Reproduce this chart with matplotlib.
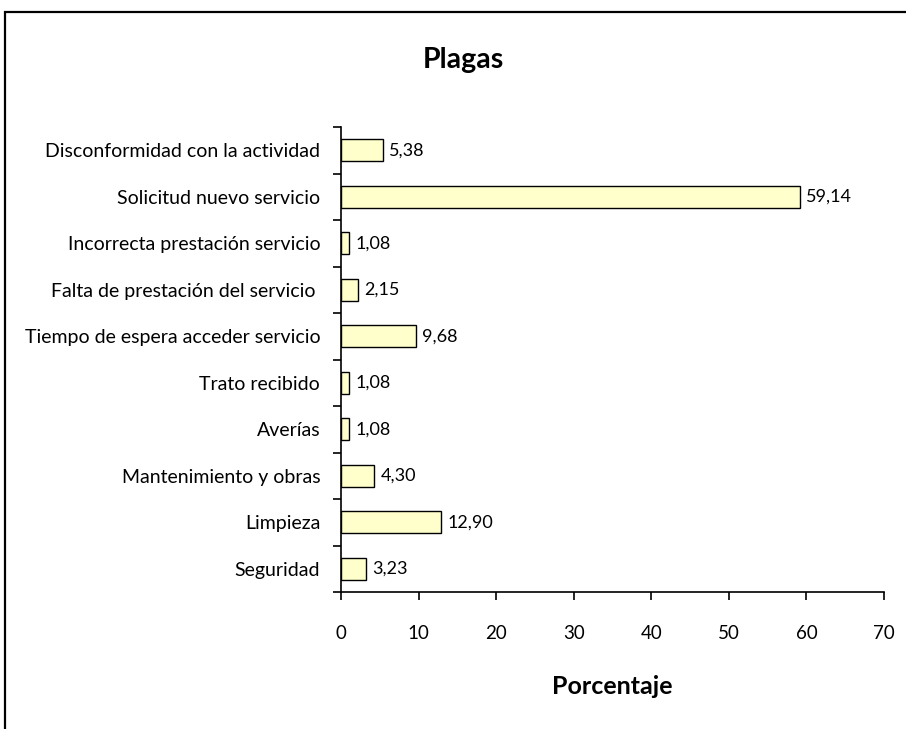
import matplotlib
matplotlib.use("Agg")
import matplotlib.pyplot as plt
from matplotlib.patches import Rectangle

categories = ["Disconformidad con la actividad", "Solicitud nuevo servicio",
              "Incorrecta prestación servicio", "Falta de prestación del servicio ",
              "Tiempo de espera acceder servicio", "Trato recibido", "Averías",
              "Mantenimiento y obras", "Limpieza", "Seguridad"]
values = [5.38, 59.14, 1.08, 2.15, 9.68, 1.08, 1.08, 4.30, 12.90, 3.23]
xticks = [0, 10, 20, 30, 40, 50, 60, 70]

plt.rcParams['font.family'] = ['Lato', 'DejaVu Sans']

fig = plt.figure(figsize=(9.06, 7.29), dpi=100)
fig.patches.append(Rectangle((5/906, -0.5), 2.0, 0.5 + 1 - 12/729, transform=fig.transFigure,
                             fill=False, edgecolor='black', linewidth=1.6))
ax = fig.add_axes([341/906, 1 - 592/729, (884 - 341)/906, (592 - 127)/729])

n = len(categories)
ypos = list(range(n))[::-1]
ax.barh(ypos, values, height=0.48, color='#FFFFCC', edgecolor='black', linewidth=1.0)
for y, v in zip(ypos, values):
    ax.text(v + 0.8, y, f"{v:.2f}".replace('.', ','), va='center', ha='left', fontsize=13)

ax.set_xlim(0, 70)
ax.set_ylim(-0.5, n - 0.5)
ax.set_xticks(xticks)
ax.set_xticklabels([str(t) for t in xticks], fontsize=13.5)
ax.set_yticks(ypos)
ax.set_yticklabels(categories, fontsize=14)
ax.set_yticks([i - 0.5 for i in range(n + 1)], minor=True)
ax.tick_params(axis='y', which='major', length=0, pad=15)
ax.tick_params(axis='y', which='minor', length=6, width=1.2, direction='out')
ax.tick_params(axis='x', which='major', length=6, width=1.2, direction='out', pad=18)
for s in ['top', 'right']:
    ax.spines[s].set_visible(False)
for s in ['left', 'bottom']:
    ax.spines[s].set_linewidth(1.2)
fig.text(612/906, 1 - 686/729, "Porcentaje", ha='center', va='center', fontsize=18, fontweight='bold')
fig.text(463/906, 1 - 60/729, "Plagas", ha='center', va='center', fontsize=20.5, fontweight='bold')

fig.savefig("out.png", dpi=100)
